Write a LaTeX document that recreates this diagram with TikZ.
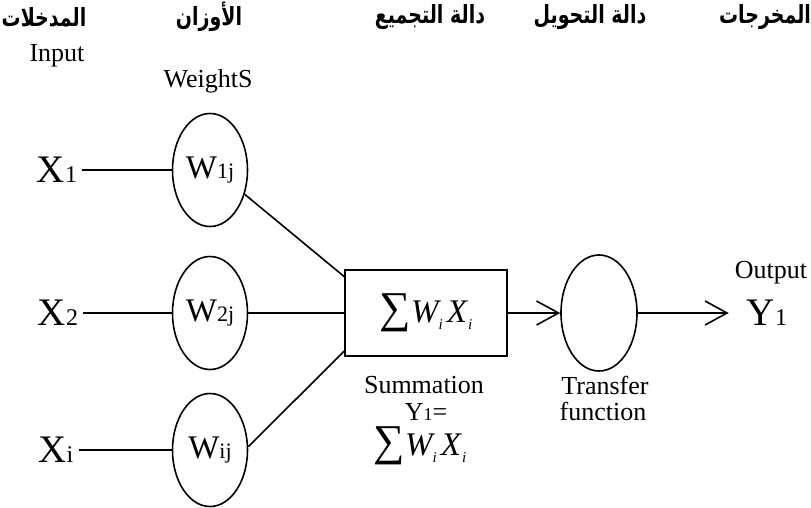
\documentclass[tikz,border=0pt]{standalone}
\usepackage{fontspec}
\setmainfont{Liberation Serif}
\newfontfamily\arabicfont[Script=Arabic,FakeStretch=0.76]{DejaVu Sans}
\TeXXeTstate=1
\usetikzlibrary{arrows.meta,shapes.geometric}
\newcommand{\arab}[1]{{\arabicfont\bfseries\beginR #1\endR}}
\newcommand{\bigsub}[2]{#1{\fontsize{24}{24}\selectfont #2}}
\newcommand{\wsub}[2]{#1{\fontsize{22}{22}\selectfont #2}}
\newcommand{\sumwx}{{\fontsize{44}{44}\selectfont ∑}{\fontsize{33}{33}\selectfont\itshape W\raisebox{-7pt}{\fontsize{15}{15}\selectfont i}\kern4pt X\raisebox{-7pt}{\fontsize{15}{15}\selectfont\kern1pt i}}}
\tikzset{
  arlbl/.style={font=\fontsize{25}{27}\selectfont, inner sep=0pt},
  lbl/.style={font=\fontsize{26}{28}\selectfont, inner sep=0pt},
  varx/.style={font=\fontsize{39}{40}\selectfont, inner sep=5pt},
  weight/.style={ellipse, draw, line width=1.6pt, minimum width=75pt, minimum height=113pt, inner sep=0pt, font=\fontsize{33}{34}\selectfont},
  sumbox/.style={rectangle, draw, line width=1.6pt, minimum width=162pt, minimum height=86pt, inner sep=0pt},
  conn/.style={line width=1.6pt},
  arr/.style={line width=1.6pt, -{Straight Barb[length=22pt,width=24pt,line width=1.6pt]}}
}
\begin{document}
\begin{tikzpicture}[x=1pt,y=-1pt]
\useasboundingbox (0,0) rectangle (811,507);
% top labels
\node[arlbl] (arin) at (44,17) {\arab{المدخلات}};
\node[arlbl] (arw) at (209,17) {\arab{الأوزان}};
\node[arlbl] (arsum) at (430,17) {\arab{دالة التجميع}};
\node[arlbl] (artf) at (590,17) {\arab{دالة التحويل}};
\node[arlbl] (arout) at (765,17) {\arab{المخرجات}};
\node[lbl] (input) at (57,56) {Input};
\node[lbl] (weights) at (208,81) {WeightS};
% inputs
\node[varx] (x1) at (57,170) {\bigsub{X}{1}};
\node[varx] (x2) at (58,313) {\bigsub{X}{2}};
\node[varx] (xi) at (56,450) {\bigsub{X}{i}};
% weights
\node[weight] (w1) at (210,170) {\wsub{W}{1j}};
\node[weight] (w2) at (210,313) {\wsub{W}{2j}};
\node[weight] (wi) at (210,450) {\wsub{W}{ij}};
% summation
\node[sumbox] (box) at (426,313) {\sumwx};
\node[ellipse, draw, line width=1.6pt, minimum width=76pt, minimum height=116pt] (tf) at (599,313) {};
\node[varx, inner sep=0pt] (y1) at (767,313) {\bigsub{Y}{1}};
\node[lbl] (output) at (771,273) {Output};
\node[lbl] (summ) at (424,385) {Summation};
\node[lbl] (yeq) at (426,412) {Y{\fontsize{18}{18}\selectfont 1}=};
\node[inner sep=0pt] (sum2) at (420,446) {\sumwx};
\node[lbl] (transfer) at (605,385) {Transfer};
\node[lbl] (function) at (603,411) {function};
% connectors
\draw[conn] (x1.east) -- (w1.west);
\draw[conn] (x2.east) -- (w2.west);
\draw[conn] (xi.east) -- (wi.west);
\draw[conn] (w1.-35) -- (box.156);
\draw[conn] (w2.east) -- (box.west);
\draw[conn] (wi.5) -- (box.205);
\draw[arr] (box.east) -- (tf.west);
\draw[arr, shorten >=18pt] (tf.east) -- (y1.west);
\end{tikzpicture}
\end{document}
